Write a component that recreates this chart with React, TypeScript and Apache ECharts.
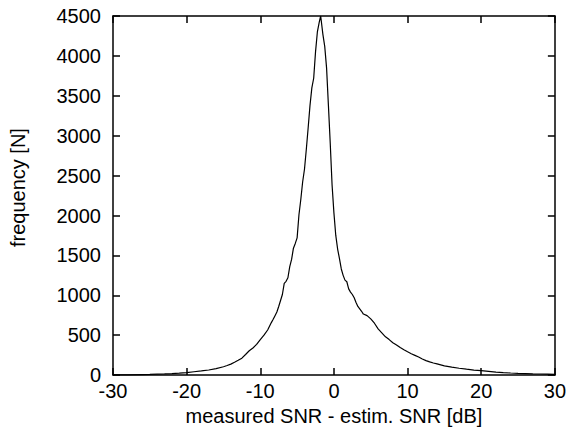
import React, { useEffect, useRef } from "react";
import * as echarts from "echarts";

const snrDiff: number[] = [
  -30, -28, -26, -25, -24, -23, -22, -21, -20, -19, -18, -17, -16, -15, -14.5, -14, -13.5, -13,
  -12.5, -12, -11.5, -11, -10.5, -10, -9.5, -9, -8.5, -8.25, -8, -7.75, -7.5, -7.25, -7, -6.75,
  -6.5, -6.25, -6, -5.75, -5.5, -5.25, -5, -4.75, -4.5, -4.25, -4, -3.75, -3.5, -3.25, -3, -2.75,
  -2.5, -2.25, -2, -1.8, -1.5, -1.25, -1, -0.75, -0.5, -0.25, 0, 0.25, 0.5, 0.75, 1, 1.25, 1.5,
  1.75, 2, 2.25, 2.5, 2.75, 3, 3.25, 3.5, 3.75, 4, 4.5, 5, 5.5, 6, 6.5, 7, 7.5, 8, 8.5, 9, 9.5, 10,
  10.5, 11, 11.5, 12, 12.5, 13, 13.5, 14, 15, 16, 17, 18, 19, 20, 21, 22, 23, 24, 25, 26, 27, 28,
  29, 30,
];

const frequency: number[] = [
  2, 4, 7, 9, 12, 15, 19, 24, 32, 42, 52, 64, 82, 105, 120, 138, 160, 185,
  212, 258, 305, 340, 385, 445, 500, 565, 658, 700, 745, 790, 860, 935, 1010, 1150,
  1175, 1220, 1360, 1450, 1590, 1650, 1720, 2010, 2200, 2420, 2580, 2830, 3100, 3380, 3600, 3720,
  4050, 4300, 4420, 4500, 4270, 4120, 3850, 3380, 2900, 2380, 2030, 1750, 1580, 1460, 1330, 1250, 1190,
  1170, 1080, 1040, 1010, 970, 910, 860, 830, 800, 765, 745, 705, 650, 580, 530, 480, 445, 405, 378, 345, 318, 292,
  268, 247, 226, 202, 182, 166, 152, 140, 116, 100, 86, 74, 63, 55, 46, 37, 31, 26, 22, 19, 16, 14,
  12, 10,
];

const xTicks: number[] = [-30, -20, -10, 0, 10, 20, 30];
const yTicks: number[] = [0, 500, 1000, 1500, 2000, 2500, 3000, 3500, 4000, 4500];

const xTitle = "measured SNR - estim. SNR [dB]";
const yTitle = "frequency [N]";

export default function App() {
  const ref = useRef<HTMLDivElement>(null);
  useEffect(() => {
    if (!ref.current) return;
    const chart = echarts.init(ref.current, undefined, { renderer: "svg" });
    const font = "'Liberation Sans', Arial, Helvetica, sans-serif";
    const lineStyle = { color: "#000", width: 1.5 };
    const axisLine = { show: true, onZero: false, lineStyle };
    const tickStyle = { show: true, inside: true, length: 7, lineStyle: { color: "#000", width: 1.5 } };
    const fmt = (v: number) => String(v);
    const series = snrDiff.map((x, i) => [x, frequency[i]]);
    chart.setOption({
      animation: false,
      backgroundColor: "#fff",
      grid: { left: 112, right: 13, top: 16, bottom: 55, containLabel: false },
      xAxis: [
        {
          type: "value",
          min: xTicks[0],
          max: xTicks[xTicks.length - 1],
          interval: 10,
          position: "bottom",
          axisLine,
          axisTick: tickStyle,
          axisLabel: { color: "#000", fontSize: 20, fontFamily: font, margin: 6, formatter: fmt },
          splitLine: { show: false },
          name: xTitle,
          nameLocation: "middle",
          nameGap: 19,
          nameTextStyle: { color: "#000", fontSize: 20, fontFamily: font },
        },
        {
          type: "value",
          min: xTicks[0],
          max: xTicks[xTicks.length - 1],
          interval: 10,
          position: "top",
          axisLine,
          axisTick: tickStyle,
          axisLabel: { show: false },
          splitLine: { show: false },
        },
      ],
      yAxis: [
        {
          type: "value",
          min: yTicks[0],
          max: yTicks[yTicks.length - 1],
          interval: 500,
          position: "left",
          axisLine,
          axisTick: tickStyle,
          axisLabel: { color: "#000", fontSize: 20, fontFamily: font, margin: 12, formatter: fmt },
          splitLine: { show: false },
          name: yTitle,
          nameLocation: "middle",
          nameGap: 85,
          nameTextStyle: { color: "#000", fontSize: 20, fontFamily: font, padding: [0, 0, 0, 16] },
        },
        {
          type: "value",
          min: yTicks[0],
          max: yTicks[yTicks.length - 1],
          interval: 500,
          position: "right",
          axisLine,
          axisTick: tickStyle,
          axisLabel: { show: false },
          splitLine: { show: false },
        },
      ],
      series: [
        {
          type: "line",
          data: series,
          xAxisIndex: 0,
          yAxisIndex: 0,
          showSymbol: false,
          symbol: "none",
          lineStyle: { color: "#000", width: 1.2 },
          clip: true,
        },
      ],
    });
    return () => chart.dispose();
  }, []);
  return <div ref={ref} style={{ position: "absolute", left: 0, top: 0, width: 569, height: 431 }} />;
}
